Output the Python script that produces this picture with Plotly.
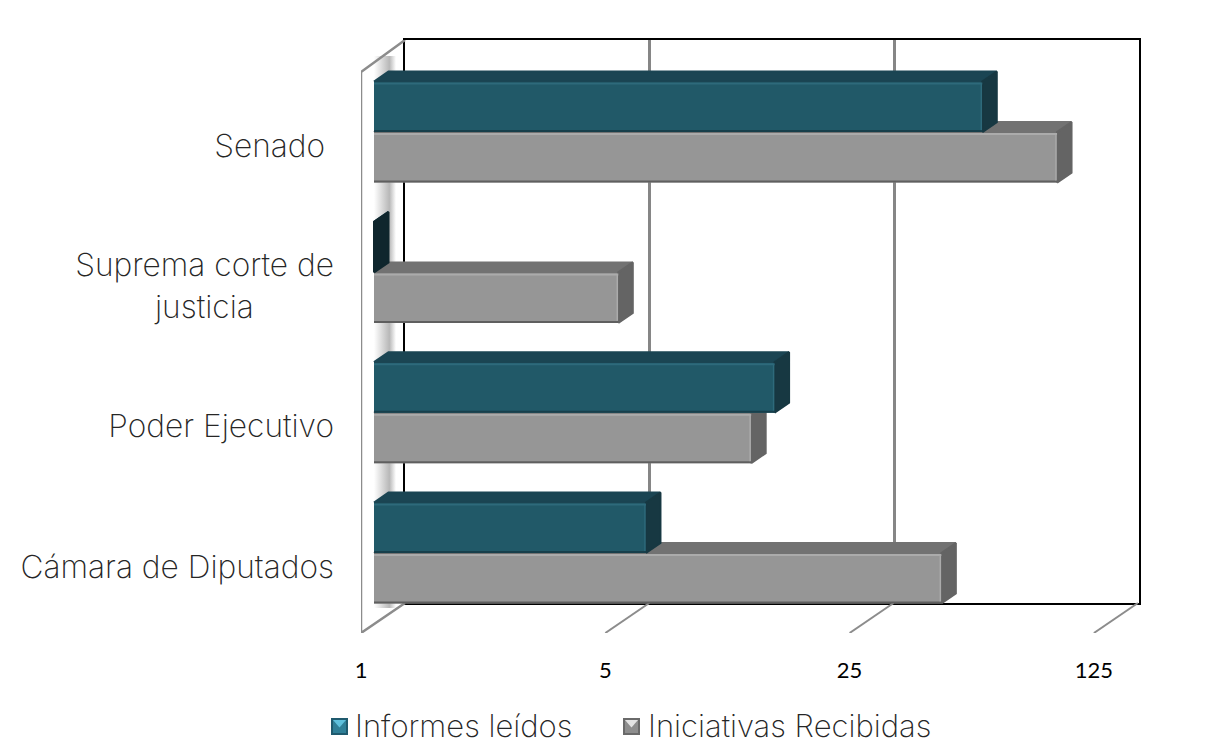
import math
import plotly.graph_objects as go

W, H = 1226, 742
PAGE = 8            # the page's body margin

categories = ["Cámara de Diputados", "Poder Ejecutivo", "Suprema corte de justicia", "Senado"]
tick_labels = ["Cámara de Diputados", "Poder Ejecutivo",
               "Suprema corte de<br>justicia" + "\u00a0" * 9, "Senado\u00a0"]
informes = [6, 14, 1, 55]
iniciativas = [42, 12, 5, 90]
x_ticks = [1, 5, 25, 125]

TEAL = dict(front="#215968", top="#1b4553", side="#173842", light="#2e6a7b", dark="#173f4b",
            sw_light="#5fc0dc", sw_edge="#1f5a6e", sw_mid="#2f7f97")
GREY = dict(front="#969696", top="#727272", side="#646464", light="#ababab", dark="#5f5f5f",
            sw_light="#e4e4e4", sw_edge="#6a6a6a", sw_mid="#8e8e8e")

TEXT = dict(family="Inter", weight=200, size=31.7, color="#262626")
LEGEND_TEXT = dict(family="Inter", weight=200, size=31, color="#262626")

# pixel sizes of the fake 3d box
DECADE = 244.3      # px per factor of 5
ROW = 140.3         # px between the groups
BAR = 0.36          # bar thickness in rows
DEPTH_X, DEPTH_Y = 14.5, 10


def shift(v, px):
    # value moved px pixels along the log axis
    return v * 5 ** (px / DECADE)


def rows(px):
    return px / ROW


def px_x(a):
    return (a - PAGE) / W


def px_y(a):
    return 1 - (a - PAGE) / H


def dom_x(a, b):
    return [px_x(a), px_x(b)]


def dom_y(top, bottom):
    return [px_y(bottom), px_y(top)]


y_low = -rows(80)
y_high = rows(513)
pos = list(range(len(categories)))

fig = go.Figure()


def poly(xs, ys, color, xa, ya):
    fig.add_trace(go.Scatter(x=xs, y=ys, mode="lines", fill="toself", fillcolor=color,
                             line=dict(color=color, width=2), hoverinfo="skip",
                             showlegend=False, xaxis=xa, yaxis=ya))


def line(xs, ys, color, width, xa, ya):
    fig.add_trace(go.Scatter(x=xs, y=ys, mode="lines", line=dict(color=color, width=width),
                             hoverinfo="skip", showlegend=False, xaxis=xa, yaxis=ya))


def series(name, values, offset, col, xa, ya):
    dx, dy = DEPTH_X, rows(DEPTH_Y)
    fig.add_trace(go.Bar(y=pos, x=[v - 1 for v in values], base=[1] * len(values), orientation="h",
                         width=BAR, offset=offset, name=name, marker=dict(color=col["front"], line=dict(width=0)),
                         showlegend=False, xaxis=xa, yaxis=ya))
    for p, v in zip(pos, values):
        lo, hi = p + offset, p + offset + BAR
        side = "#0f262d" if v == 1 and col is TEAL else col["side"]
        poly([1, v, shift(v, dx), shift(1, dx), 1], [hi, hi, hi + dy, hi + dy, hi], col["top"], xa, ya)
        poly([v, shift(v, dx), shift(v, dx), v, v], [lo, lo + dy, hi + dy, hi, lo], side, xa, ya)
        if v > 1:
            line([1, v], [hi - rows(2), hi - rows(2)], col["light"], 2, xa, ya)
            line([1, v], [lo + rows(1), lo + rows(1)], col["dark"], 2, xa, ya)
            line([shift(v, -1), shift(v, -1)], [lo + rows(2), hi - rows(2)], col["light"], 1.5, xa, ya)


def legend_item(name, col, swatch_x, text_x):
    # square swatch with the bevel
    y0, y1 = px_y(735), px_y(718)
    x0, x1 = px_x(swatch_x), px_x(swatch_x + 17)
    mx = (x0 + x1) / 2
    inset = 2 / W
    inset_y = 2 / H
    base = dict(xref="paper", yref="paper", line=dict(width=0), layer="above")
    fig.add_shape(type="rect", x0=x0, x1=x1, y0=y0, y1=y1, fillcolor=col["sw_edge"], **base)
    fig.add_shape(type="rect", x0=x0 + inset, x1=x1 - inset, y0=y0 + inset_y, y1=y1 - inset_y,
                  fillcolor=col["sw_mid"], **base)
    fig.add_shape(type="path", path="M %f,%f L %f,%f L %f,%f Z" % (x0 + inset, y1 - inset_y, x1 - inset, y1 - inset_y,
                                                                 mx, (y0 + y1) / 2 - 1 / H),
                  fillcolor=col["sw_light"], **base)
    fig.add_annotation(text=name, xref="paper", yref="paper", x=px_x(text_x), y=px_y(725), showarrow=False,
                       xanchor="left", yanchor="middle", borderpad=0, font=LEGEND_TEXT)


# empty traces so that the wall and the tick label axes get drawn
fig.add_trace(go.Scatter(x=[1], y=[0], mode="none", hoverinfo="skip", showlegend=False, xaxis="x", yaxis="y"))
fig.add_trace(go.Scatter(x=[1], y=[0], mode="none", hoverinfo="skip", showlegend=False, xaxis="x3", yaxis="y2"))

# left wall and the floor ticks, under the bars
fig.add_trace(go.Scatter(x=[shift(1, 0), shift(1, 22), shift(1, 22), shift(1, 0), shift(1, 0)],
                         y=[rows(-55), rows(-55), rows(497), rows(497), rows(-55)],
                         mode="none", fill="toself", hoverinfo="skip", showlegend=False,
                         fillgradient=dict(type="horizontal",
                                           colorscale=[[0, "#ffffff"], [0.7, "#b8b8b8"], [1, "#ffffff"]]),
                         xaxis="x2", yaxis="y2"))
line([shift(1, 31), shift(1, -13), shift(1, -13), shift(1, 31)],
     [rows(513), rows(481), y_low, y_low + rows(30)], "#8c8c8c", 2.5, "x2", "y2")
for t in x_ticks[1:]:
    line([shift(t, -13), shift(t, 31)], [y_low, y_low + rows(30)], "#8c8c8c", 2, "x2", "y2")

series("Iniciativas Recibidas", iniciativas, -BAR, GREY, "x4", "y4")
series("Informes leídos", informes, 0, TEAL, "x5", "y5")

legend_item("Informes leídos", TEAL, 331, 354)
legend_item("Iniciativas Recibidas", GREY, 623, 647)

x2_range = [math.log10(shift(1, -13)), math.log10(shift(1, 765))]
y_range = [y_low, y_high]
hidden = dict(showgrid=False, zeroline=False, showticklabels=False, ticks="", showline=False)

fig.update_layout(
    width=W, height=H, autosize=False,
    margin=dict(l=0, r=0, t=0, b=0, autoexpand=False),
    paper_bgcolor="white", plot_bgcolor="rgba(0,0,0,0)",
    showlegend=False,
    # back wall
    xaxis=dict(type="log", domain=dom_x(405, 1139), range=[0, math.log10(125)], tickvals=x_ticks,
               showticklabels=False, ticks="", showgrid=True, gridcolor="#868686", gridwidth=2.5,
               showline=True, mirror=True, linecolor="black", linewidth=2, zeroline=False, anchor="y"),
    yaxis=dict(domain=dom_y(40, 603), range=[0, 1], showgrid=False, zeroline=False, showticklabels=False,
               showline=True, mirror=True, linecolor="black", linewidth=2, anchor="x"),
    # left wall and floor
    xaxis2=dict(type="log", domain=dom_x(361, 1139), range=x2_range, anchor="y2", **hidden),
    yaxis2=dict(domain=dom_y(40, 633), range=y_range, anchor="x2", showgrid=False, zeroline=False,
                showline=False, tickmode="array", tickvals=[p - rows(13.5) for p in pos], ticktext=tick_labels,
                ticks="", ticklabelstandoff=26, tickfont=TEXT),
    # tick labels sit on the front edge of the floor
    xaxis3=dict(type="log", domain=dom_x(361, 1139), range=[0, math.log10(shift(1, 778))], anchor="y2",
                overlaying="x2", side="bottom", tickvals=x_ticks, ticktext=[str(t) for t in x_ticks],
                ticks="", ticklabelstandoff=22, showgrid=False, zeroline=False, showline=False,
                tickfont=dict(family="Lato", size=22, color="black")),
    # the two bar series, teal above grey
    xaxis4=dict(type="log", domain=dom_x(361, 1139), range=x2_range, anchor="y4", overlaying="x2", **hidden),
    yaxis4=dict(domain=dom_y(40, 633), range=y_range, anchor="x4", overlaying="y2", **hidden),
    xaxis5=dict(type="log", domain=dom_x(361, 1139), range=x2_range, anchor="y5", overlaying="x2", **hidden),
    yaxis5=dict(domain=dom_y(40, 633), range=y_range, anchor="x5", overlaying="y2", **hidden),
)

fig.write_html("out.html")
